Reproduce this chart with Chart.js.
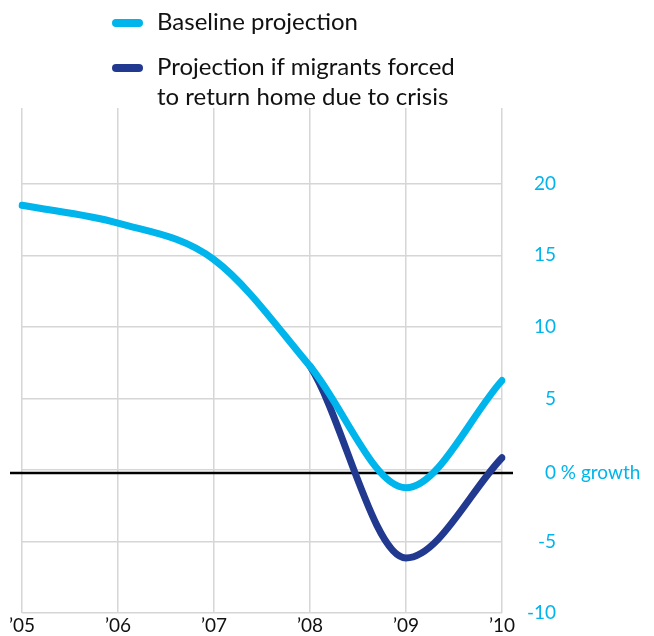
<!DOCTYPE html>
<html>
<head>
<meta charset="utf-8">
<script src="https://cdn.jsdelivr.net/npm/chart.js@4"></script>
<style>
  html, body { margin: 0; padding: 0; background: #fff; }
  #wrap { position: relative; width: 654px; height: 636px; overflow: hidden; }
  #c { position: absolute; left: 0; top: 0; }
  #legend { position: absolute; left: 112px; top: 6px; font-family: Lato, "Noto Sans", sans-serif; font-size: 24px; color: #111; line-height: 30px; }
  .item { position: relative; padding-left: 45px; }
  .item + .item { margin-top: 15px; }
  .sw { position: absolute; left: 0; top: 13px; width: 31px; height: 8px; border-radius: 4px; }
</style>
</head>
<body>
<div id="wrap">
  <canvas id="c" width="654" height="636"></canvas>
  <div id="legend"></div>
</div>
<script>
// ---- data ----
const years = ['\u201905', '\u201906', '\u201907', '\u201908', '\u201909', '\u201910'];
const baseline = [18.5, 17.25, 14.7, 7.25, -1.25, 6.25];
const crisis = [18.5, 17.25, 14.7, 7.25, -6.15, 0.85];
const yTicks = [-10, -5, 0, 5, 10, 15, 20];
const seriesNames = ['Baseline projection', 'Projection if migrants forced\nto return home due to crisis'];

// ---- styles ----
const LIGHT = '#00B4EC';
const DARK = '#213A8F';
const GRID = '#d6d6d6';
const FONT = 'Lato, "Noto Sans", sans-serif';
const SPLIT = crisis.findIndex((v, i) => v !== baseline[i]); // first diverging point

// HTML legend
const legend = document.getElementById('legend');
[LIGHT, DARK].forEach((col, i) => {
  const d = document.createElement('div');
  d.className = 'item';
  const s = document.createElement('span');
  s.className = 'sw';
  s.style.background = col;
  d.appendChild(s);
  seriesNames[i].split('\n').forEach((t, j) => {
    if (j) d.appendChild(document.createElement('br'));
    d.appendChild(document.createTextNode(t));
  });
  legend.appendChild(d);
});

const labelsPlugin = {
  id: 'customLabels',
  beforeDatasetsDraw(chart) {
    const ctx = chart.ctx;
    const y = chart.scales.y;
    const area = chart.chartArea;
    ctx.save();
    ctx.strokeStyle = '#000';
    ctx.lineWidth = 2.5;
    const y0 = y.getPixelForValue(0) + 3;
    ctx.beginPath();
    ctx.moveTo(area.left - 12, y0);
    ctx.lineTo(area.right + 11, y0);
    ctx.stroke();
    ctx.restore();
  },
  afterDraw(chart) {
    const ctx = chart.ctx;
    const y = chart.scales.y;
    const x = chart.scales.x;
    ctx.save();
    ctx.font = '19px ' + FONT;
    ctx.fillStyle = LIGHT;
    ctx.textBaseline = 'middle';
    const rx = 556;
    yTicks.forEach(v => {
      let py = y.getPixelForValue(v);
      if (v === 0) {
        py += 3;
        const w = ctx.measureText('0').width;
        ctx.textAlign = 'left';
        ctx.fillText('0 % growth', rx - w, py);
      } else {
        ctx.textAlign = 'right';
        ctx.fillText(String(v), rx, py);
      }
    });
    ctx.fillStyle = '#111';
    ctx.textAlign = 'center';
    ctx.font = '19px ' + FONT;
    years.forEach((t, i) => {
      ctx.fillText(t, x.getPixelForValue(i), 626);
    });
    ctx.restore();
  }
};

new Chart(document.getElementById('c'), {
  type: 'line',
  data: {
    labels: years,
    datasets: [
      { label: seriesNames[0], data: baseline, borderColor: LIGHT, backgroundColor: LIGHT },
      {
        label: seriesNames[1], data: crisis, borderColor: DARK, backgroundColor: DARK,
        // shared stretch is hidden under the baseline line; only draw where it diverges
        segment: { borderColor: c => (c.p1DataIndex < SPLIT ? 'rgba(0,0,0,0)' : DARK) }
      }
    ]
  },
  options: {
    responsive: false,
    animation: false,
    devicePixelRatio: 1,
    layout: { padding: { left: 22, right: 152, top: 108, bottom: 23 } },
    elements: {
      line: { borderWidth: 7, cubicInterpolationMode: 'monotone', borderCapStyle: 'round', borderJoinStyle: 'round', fill: false },
      point: { radius: 0, hoverRadius: 0 }
    },
    plugins: { legend: { display: false }, tooltip: { enabled: false } },
    scales: {
      x: {
        offset: false,
        grid: { color: GRID, lineWidth: 1.5, drawTicks: false },
        border: { display: false },
        ticks: { display: false }
      },
      y: {
        position: 'right',
        min: -10,
        max: 25.3,
        afterBuildTicks(scale) { scale.ticks = yTicks.map(v => ({ value: v })); },
        grid: { color: GRID, lineWidth: 1.5, drawTicks: false },
        border: { display: false },
        ticks: { display: false }
      }
    }
  },
  plugins: [labelsPlugin]
});
</script>
</body>
</html>
